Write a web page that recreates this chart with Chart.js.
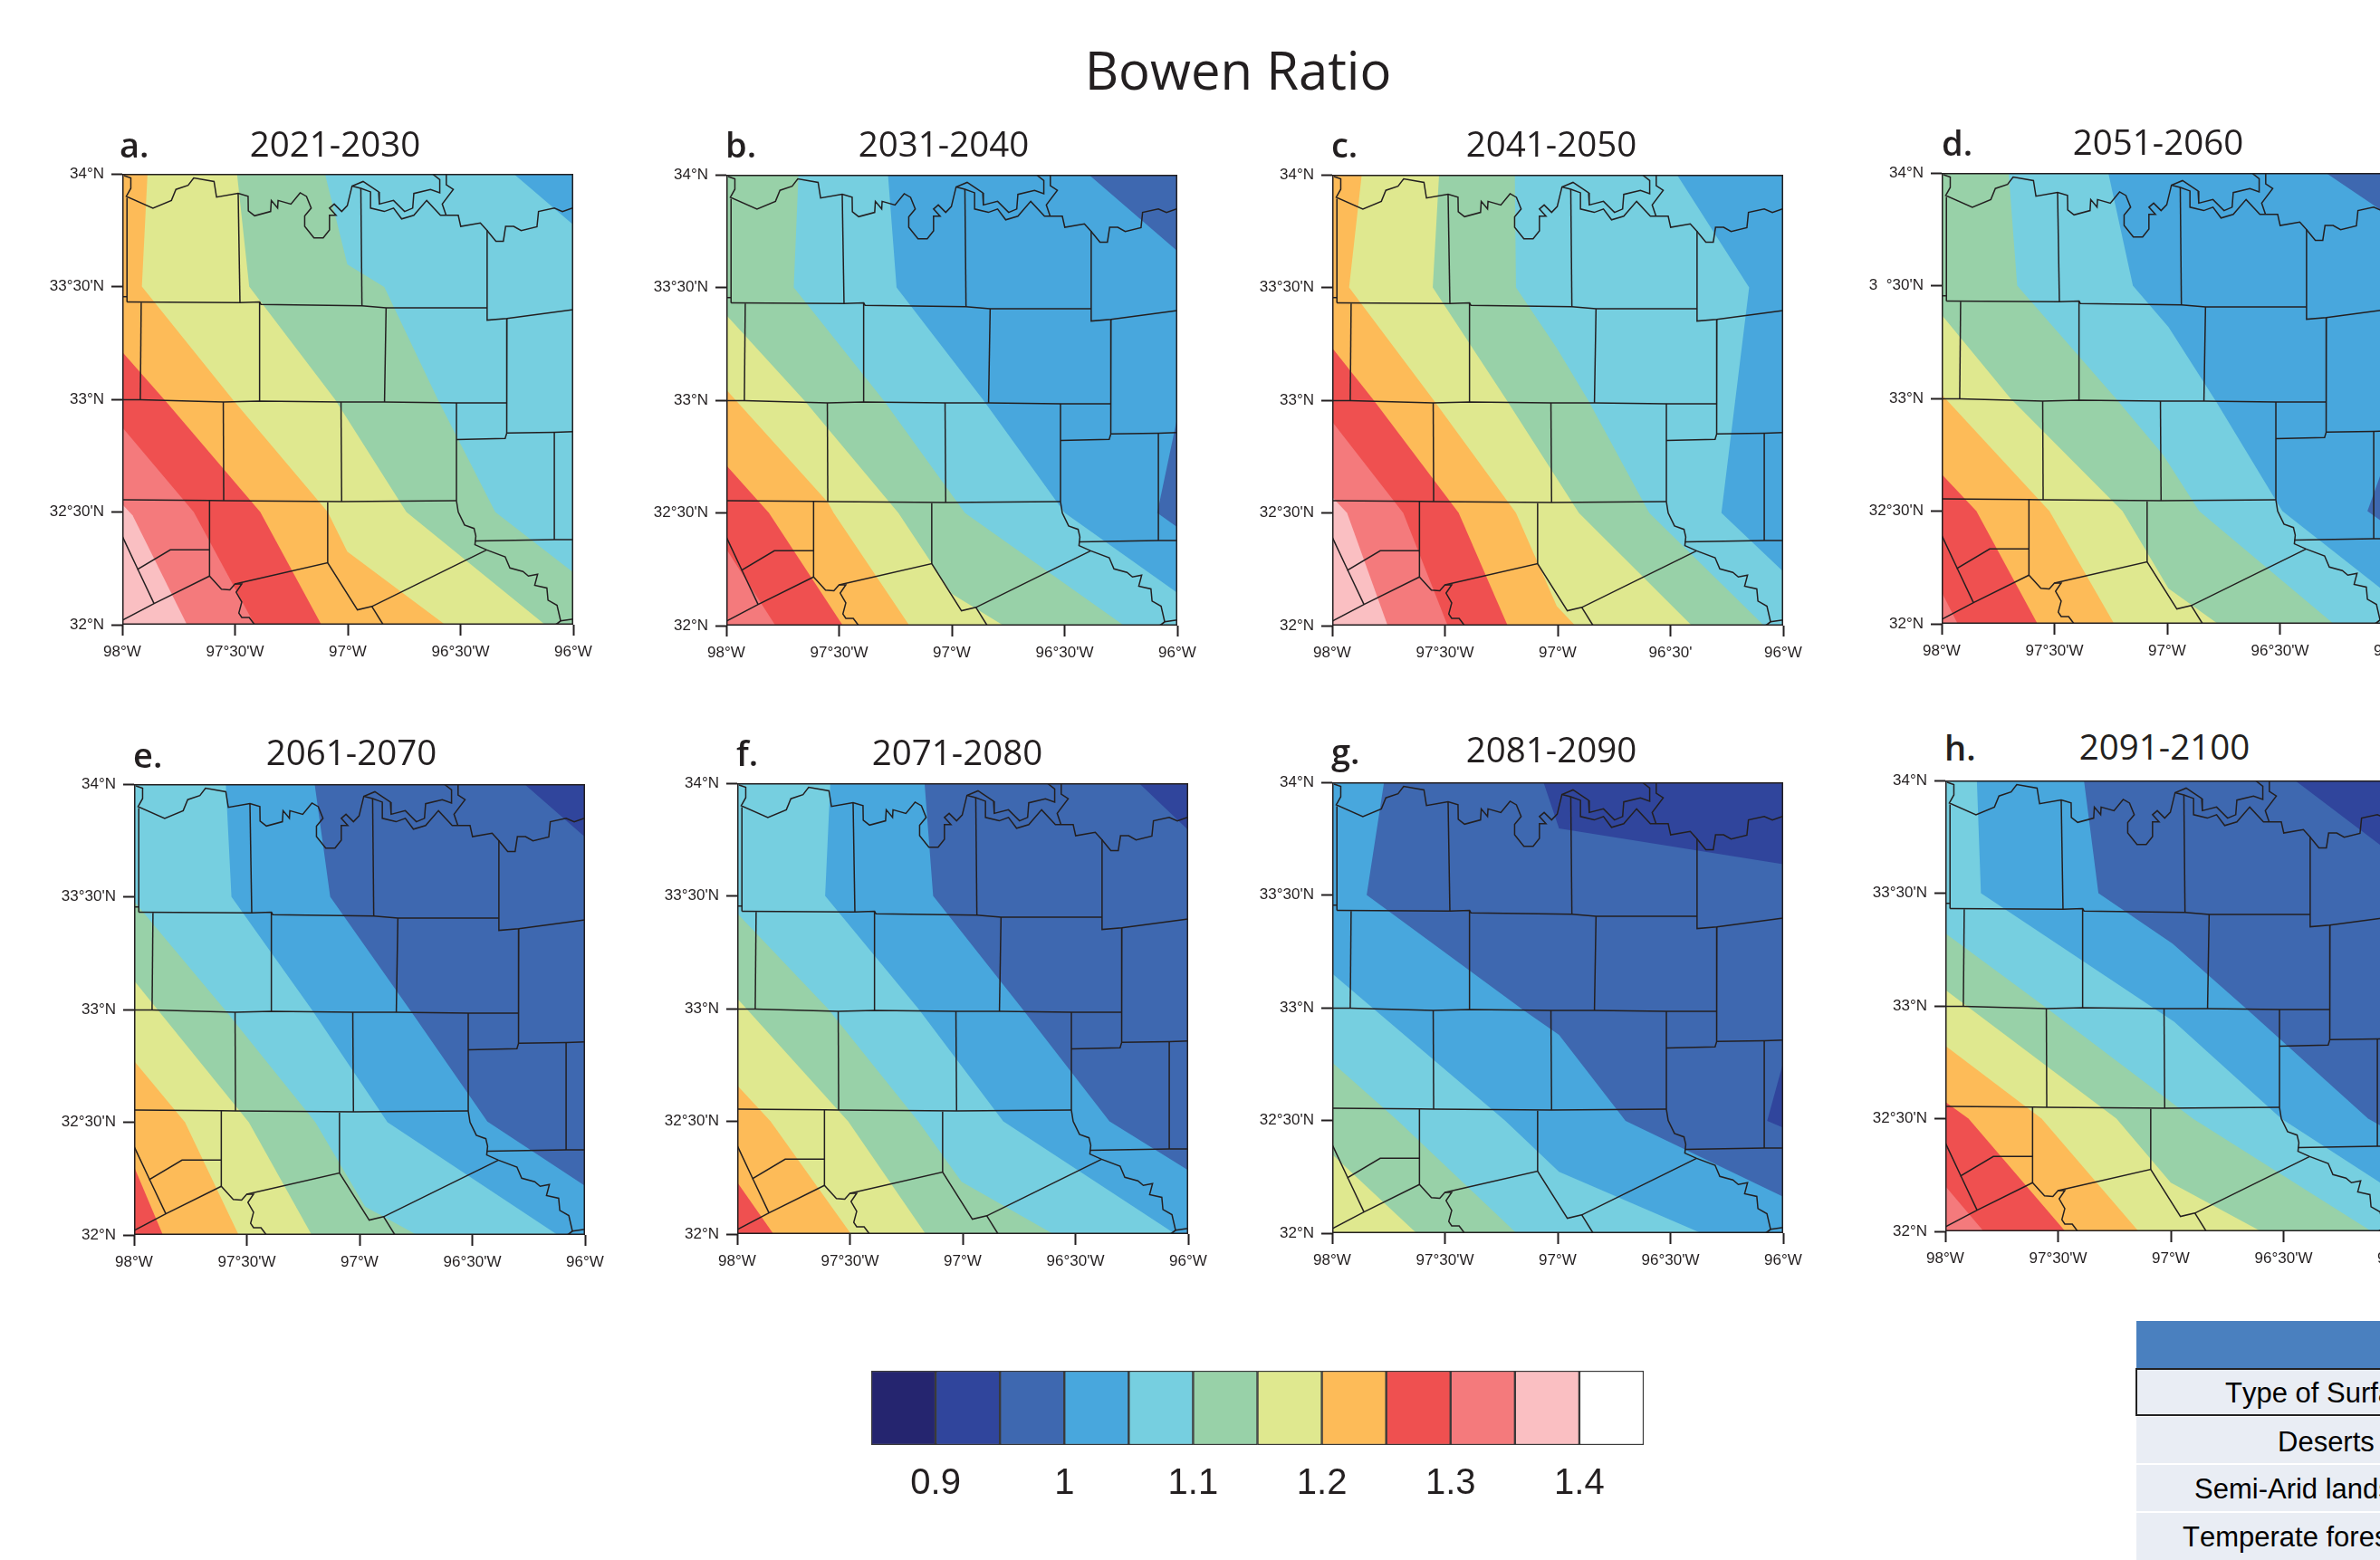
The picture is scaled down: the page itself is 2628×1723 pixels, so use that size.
<!DOCTYPE html>
<html>
<head>
<meta charset="utf-8">
<title>Bowen Ratio</title>
<script src="https://cdn.jsdelivr.net/npm/chart.js@4"></script>
<style>
  html, body { margin: 0; width: 2628px; height: 1723px; overflow: hidden; background: #fff; color: #231f20; }
  canvas { position: absolute; }
  .txt { position: absolute; white-space: nowrap; line-height: 1; }
  .main-title { font: 58px "Open Sans", sans-serif; transform: translateX(-50%); }
  .panel-title { font: 38.5px "Open Sans", sans-serif; transform: translateX(-50%); }
  .panel-letter { font: 600 38px "Open Sans", sans-serif; }
  .row { position: absolute; left: 2359px; right: 0; background: #e9edf4; }
  .row-text { font: 31px "Liberation Sans", sans-serif; color: #000; font-kerning: none; }
</style>
</head>
<body>
<script>
// Legend colours, lowest class first
const LEVEL_COLORS = ['#25256f', '#30459c', '#3e68b0', '#48a7dd', '#76cfe0', '#98d1a8',
  '#dfe88f', '#fdbb58', '#ef5050', '#f47a7c', '#fabfc2', '#ffffff'];
const COLORBAR_EDGES = [0.85, 0.9, 0.95, 1, 1.05, 1.1, 1.15, 1.2, 1.25, 1.3, 1.35, 1.4, 1.45];
const COLORBAR_TICKS = [0.9, 1, 1.1, 1.2, 1.3, 1.4];

const PANEL_LETTERS = ['a.', 'b.', 'c.', 'd.', 'e.', 'f.', 'g.', 'h.'];
const PANEL_YEARS = ['2021-2030', '2031-2040', '2041-2050', '2051-2060',
  '2061-2070', '2071-2080', '2081-2090', '2091-2100'];
const LON_LABELS = ['98°W', "97°30'W", '97°W', "96°30'W", '96°W'];
const LAT_LABELS = ['32°N', "32°30'N", '33°N', "33°30'N", '34°N'];
const TABLE_ROWS = ['Type of Surface', 'Deserts', 'Semi-Arid landscape', 'Temperate forests'];

// Class of the area in the north-east corner of each panel
const BASE_LEVELS = [3, 2, 3, 2, 1, 1, 1, 1];

// Contours as [class, line]: everything south-west of the line has that class or higher.
// Lines are [lon, lat] and start and end on the panel edge.
const bandsA = [
  [4, [[-96.264, 34], [-96, 33.774]]],
  [5, [[-97.101, 34], [-97.002, 33.598], [-96.838, 33.498], [-96.601, 33], [-96.346, 32.5], [-96, 32.232]]],
  [6, [[-97.491, 34], [-97.437, 33.5], [-97.057, 33], [-96.74, 32.5], [-96.125, 32]]],
  [7, [[-97.888, 34], [-97.913, 33.5], [-97.511, 33], [-97.089, 32.5], [-97.002, 32.324], [-96.568, 32]]],
  [8, [[-98, 33.21], [-97.806, 32.99], [-97.388, 32.5], [-97.117, 32]]],
  [9, [[-98, 32.876], [-97.683, 32.5], [-97.413, 32]]],
  [10, [[-98, 32.534], [-97.954, 32.485], [-97.713, 32]]],
];
const bandsB = [
  [3, [[-96.392, 34], [-96, 33.662]]],
  [4, [[-97.283, 34], [-97.245, 33.5], [-96.86, 33], [-96.499, 32.5], [-96, 32.146]]],
  [5, [[-97.68, 34], [-97.701, 33.5], [-97.303, 33], [-96.942, 32.5], [-96.236, 32]]],
  [6, [[-98, 33.378], [-97.655, 33], [-97.237, 32.5], [-96.999, 32.141], [-96.77, 32]]],
  [7, [[-98, 33.046], [-97.549, 32.546], [-97.524, 32.5], [-97.188, 32]]],
  [8, [[-98, 32.711], [-97.811, 32.5], [-97.483, 32]]],
  [9, [[-98, 32.339], [-97.782, 32]]],
];
const bandsC = [
  [4, [[-96.471, 34], [-96.151, 33.5], [-96.274, 32.5], [-96, 32.24]]],
  [5, [[-97.19, 34], [-97.185, 33.5], [-97.004, 33.231], [-96.865, 33], [-96.594, 32.5], [-96.085, 32]]],
  [6, [[-97.526, 34], [-97.554, 33.5], [-97.226, 33], [-96.906, 32.5], [-96.405, 32]]],
  [7, [[-97.869, 34], [-97.925, 33.5], [-97.55, 33], [-97.185, 32.5], [-97.004, 32.086], [-96.922, 32]]],
  [8, [[-98, 33.232], [-97.816, 33], [-97.439, 32.5], [-97.222, 32]]],
  [9, [[-98, 32.905], [-97.685, 32.5], [-97.488, 32]]],
  [10, [[-98, 32.57], [-97.934, 32.5], [-97.754, 32]]],
];
const bandsD = [
  [3, [[-96.296, 34], [-96, 33.8]]],
  [4, [[-97.261, 34], [-97.152, 33.5], [-96.994, 33.316], [-96.783, 32.986], [-96.489, 32.5], [-96, 32.115]]],
  [5, [[-97.703, 34], [-97.665, 33.5], [-97.228, 33], [-97.017, 32.748], [-96.858, 32.5], [-96.262, 32]]],
  [6, [[-98, 33.37], [-97.695, 33], [-97.198, 32.5], [-96.994, 32.157], [-96.775, 32]]],
  [7, [[-98, 33.017], [-97.522, 32.5], [-97.235, 32]]],
  [8, [[-98, 32.664], [-97.846, 32.5], [-97.575, 32]]],
  [9, [[-98, 32.141], [-97.929, 32]]],
];
const bandsE = [
  [2, [[-96.269, 34], [-96, 33.765]]],
  [3, [[-97.199, 34], [-97.13, 33.5], [-96.769, 32.988], [-96.433, 32.503], [-96, 32.218]]],
  [4, [[-97.593, 34], [-97.568, 33.5], [-97.212, 33], [-96.876, 32.5], [-96.121, 32]]],
  [5, [[-98, 33.48], [-97.598, 33], [-97.196, 32.5], [-96.975, 32.126], [-96.745, 32]]],
  [6, [[-98, 33.129], [-97.491, 32.5], [-97.212, 32]]],
  [7, [[-98, 32.772], [-97.774, 32.5], [-97.536, 32]]],
  [8, [[-98, 32.303], [-97.872, 32]]],
];
const bandsF = [
  [2, [[-96.218, 34], [-96, 33.792]]],
  [3, [[-97.169, 34], [-97.131, 33.5], [-96.73, 32.992], [-96.349, 32.5], [-96, 32.283]]],
  [4, [[-97.587, 34], [-97.61, 33.5], [-97.197, 33], [-96.82, 32.5], [-96.057, 32]]],
  [5, [[-98, 33.423], [-97.598, 33], [-97.197, 32.5], [-97.005, 32.232], [-96.598, 32]]],
  [6, [[-98, 33.045], [-97.508, 32.5], [-97.164, 32]]],
  [7, [[-98, 32.66], [-97.852, 32.5], [-97.495, 32]]],
  [8, [[-98, 32.23], [-97.839, 32]]],
];
const bandsG = [
  [2, [[-97.063, 34], [-96.994, 33.795], [-96, 33.637]]],
  [3, [[-97.77, 34], [-97.847, 33.5], [-97.15, 32.988], [-96.994, 32.88], [-96.699, 32.498], [-96, 32.162]]],
  [4, [[-98, 33.152], [-97.232, 32.498], [-96.994, 32.272], [-96.363, 32]]],
  [5, [[-98, 32.757], [-97.708, 32.498], [-97.183, 32]]],
  [6, [[-98, 32.349], [-97.626, 32]]],
];
const bandsH = [
  [2, [[-96.449, 34], [-96, 33.66]]],
  [3, [[-97.385, 34], [-97.321, 33.5], [-96.992, 33.276], [-96.661, 32.984], [-96.125, 32.5], [-96, 32.43]]],
  [4, [[-97.86, 34], [-97.842, 33.5], [-96.985, 32.93], [-96.51, 32.5], [-96, 32.17]]],
  [5, [[-98, 33.322], [-97.55, 32.99], [-96.902, 32.5], [-96.11, 32]]],
  [6, [[-98, 33.071], [-97.241, 32.5], [-97, 32.216], [-96.6, 32]]],
  [7, [[-98, 32.823], [-97.573, 32.5], [-97.143, 32]]],
  [8, [[-98, 32.574], [-97.897, 32.5], [-97.468, 32]]],
  [9, [[-98, 32.201], [-97.83, 32]]],
];
const PANEL_BANDS = [bandsA, bandsB, bandsC, bandsD, bandsE, bandsF, bandsG, bandsH];

// Small low-value patches on the east edge, drawn over the bands
const PANEL_PATCHES = [
  [],
  [[2, [[-96, 32.924], [-96.089, 32.5], [-96, 32.437]]]],
  [],
  [[2, [[-96, 32.81], [-96.112, 32.5], [-96, 32.42]]]],
  [],
  [],
  [[1, [[-96, 32.757], [-96.071, 32.498], [-96, 32.468]]]],
  [],
];

// County lines and rivers, same on every panel
const redRiver = [[-97.992, 33.992], [-97.962, 33.982], [-97.962, 33.936], [-97.982, 33.9], [-97.864, 33.848],
  [-97.782, 33.882], [-97.762, 33.931], [-97.708, 33.949], [-97.683, 33.982], [-97.593, 33.966], [-97.582, 33.897],
  [-97.486, 33.914], [-97.442, 33.9], [-97.441, 33.836], [-97.413, 33.814], [-97.342, 33.833], [-97.339, 33.882],
  [-97.311, 33.848], [-97.309, 33.882], [-97.252, 33.866], [-97.211, 33.916], [-97.183, 33.9], [-97.162, 33.848],
  [-97.191, 33.813], [-97.191, 33.767], [-97.15, 33.716], [-97.109, 33.716], [-97.081, 33.751], [-97.081, 33.816],
  [-97.052, 33.816], [-97.081, 33.848], [-97.06, 33.866], [-97.027, 33.833], [-97.002, 33.859], [-96.981, 33.946],
  [-96.932, 33.966], [-96.863, 33.92], [-96.86, 33.866], [-96.797, 33.882], [-96.748, 33.833], [-96.712, 33.848],
  [-96.707, 33.913], [-96.633, 33.931], [-96.592, 33.916], [-96.592, 33.974], [-96.625, 34]];
const lakeBranch = [[-96.981, 33.946], [-96.942, 33.936], [-96.899, 33.92], [-96.899, 33.848], [-96.838, 33.833],
  [-96.797, 33.848], [-96.761, 33.8], [-96.707, 33.816], [-96.65, 33.882], [-96.589, 33.816], [-96.51, 33.816],
  [-96.499, 33.767], [-96.412, 33.782], [-96.384, 33.751], [-96.343, 33.701], [-96.31, 33.701], [-96.3, 33.767],
  [-96.264, 33.767], [-96.231, 33.748], [-96.161, 33.765], [-96.154, 33.833], [-96.084, 33.848], [-96.048, 33.833],
  [-96, 33.85]];
const eastBranch = [[-96.563, 34], [-96.563, 33.951], [-96.532, 33.931], [-96.581, 33.866], [-96.564, 33.816]];
const trinity = [[-96.518, 32.55], [-96.51, 32.5], [-96.482, 32.442], [-96.44, 32.427], [-96.432, 32.393],
  [-96.436, 32.355], [-96.384, 32.332], [-96.302, 32.301], [-96.281, 32.252], [-96.223, 32.236], [-96.199, 32.216],
  [-96.158, 32.224], [-96.171, 32.175], [-96.117, 32.163], [-96.112, 32.109], [-96.072, 32.086], [-96.056, 32.017],
  [-96.075, 32.002]];
const southRiver = [[-97.613, 32.551], [-97.613, 32.216], [-97.56, 32.158], [-97.523, 32.155], [-97.5, 32.181],
  [-97.47, 32.181], [-97.495, 32.144], [-97.47, 32.101], [-97.483, 32.052], [-97.47, 32.032], [-97.437, 32.032],
  [-97.413, 32]];
const countyLines = [
  [[-97.979, 33.894], [-97.979, 33.432]],
  [[-98, 33.455], [-97.979, 33.455]],
  [[-97.979, 33.432], [-97.478, 33.429], [-97.391, 33.432], [-97.385, 33.421], [-96.937, 33.415], [-96.83, 33.406], [-96.382, 33.406]],
  [[-97.486, 33.914], [-97.478, 33.429]],
  [[-96.942, 33.936], [-96.937, 33.415]],
  [[-96.382, 33.751], [-96.382, 33.351], [-96.294, 33.358], [-96, 33.398]],
  [[-96.83, 33.406], [-96.837, 32.988]],
  [[-97.391, 33.432], [-97.391, 32.992]],
  [[-97.916, 33.429], [-97.92, 32.998]],
  [[-98, 32.998], [-97.92, 32.998], [-97.552, 32.988], [-97.391, 32.992], [-97.03, 32.988], [-96.837, 32.988], [-96.518, 32.984], [-96.295, 32.984]],
  [[-96.294, 33.358], [-96.295, 32.984], [-96.295, 32.85], [-96.302, 32.826], [-96.518, 32.821]],
  [[-96.295, 32.85], [-96.084, 32.853], [-96, 32.856]],
  [[-96.518, 32.984], [-96.518, 32.55]],
  [[-97.552, 32.988], [-97.55, 32.55]],
  [[-97.03, 32.988], [-97.027, 32.546]],
  [[-98, 32.554], [-97.613, 32.551], [-97.55, 32.55], [-97.027, 32.546], [-96.518, 32.55]],
  [[-96.436, 32.371], [-96.084, 32.378], [-96, 32.378]],
  [[-96.084, 32.853], [-96.084, 32.378]],
  [[-96.384, 32.332], [-96.893, 32.081], [-96.957, 32.066], [-97.089, 32.275], [-97.5, 32.181]],
  [[-97.089, 32.543], [-97.089, 32.275]],
  [[-96.893, 32.081], [-96.843, 32]],
  [[-97.613, 32.332], [-97.787, 32.332], [-97.931, 32.246], [-98, 32.393]],
  [[-97.931, 32.246], [-97.859, 32.094]],
  [[-97.613, 32.216], [-97.859, 32.094], [-98, 32.02]],
  [[-96.075, 32.002], [-96.056, 32.017], [-96, 32.025]],
  [[-96.075, 32.002], [-96.09, 32]],
];
const MAP_LINES = [redRiver, lakeBranch, eastBranch, trinity, southRiver, ...countyLines];

// Left and top of each plot area on the page
const PANEL_BOXES = [[135, 192], [802, 193], [1471, 193], [2144, 191], [148, 866], [814, 865], [1471, 864], [2148, 862]];
const LETTER_POS = [[132, 133], [801, 133], [1470, 133], [2144, 131], [147, 807], [813, 805], [1470, 803], [2147, 799]];
const YEAR_CENTER = [[370, 132], [1042, 132], [1713, 132], [2383, 130], [388, 804], [1057, 804], [1713, 801], [2390, 798]];

const PLOT_SIZE = 498;
const Y_AXIS_W = 90;
const X_AXIS_H = 50;
const PAD_TOP = 10;
const PAD_RIGHT = 30;
const INK = '#231f20';

const toPoints = (pairs) => pairs.map(([x, y]) => ({ x, y }));

function borderPos([lon, lat]) {
  if (lat === 32) return (-96 - lon) / 2;
  if (lon === -98) return 1 + (lat - 32) / 2;
  if (lat === 34) return 2 + (lon + 98) / 2;
  return 3 + (34 - lat) / 2;
}

// Walk clockwise round the frame from the end of the line back to its start
function closeBand(line) {
  const corners = [[-96, 32], [-98, 32], [-98, 34], [-96, 34]];
  const from = borderPos(line[line.length - 1]);
  let to = borderPos(line[0]);
  if (to < from) to += 4;
  const out = [...line];
  for (let k = Math.ceil(from); k < to; k++) out.push(corners[k % 4]);
  return out;
}

function areaDataset(level, pairs) {
  return {
    data: toPoints(pairs),
    showLine: true,
    fill: 'shape',
    backgroundColor: LEVEL_COLORS[level],
    borderWidth: 0,
    pointRadius: 0,
  };
}

function lineDataset(pairs, width) {
  return {
    data: toPoints(pairs),
    showLine: true,
    fill: false,
    borderColor: INK,
    borderWidth: width,
    pointRadius: 0,
  };
}

function panelDatasets(i) {
  const frame = [[-98, 32], [-96, 32], [-96, 34], [-98, 34], [-98, 32]];
  const list = [areaDataset(BASE_LEVELS[i], frame)];
  PANEL_BANDS[i].forEach(([level, line]) => list.push(areaDataset(level, closeBand(line))));
  PANEL_PATCHES[i].forEach(([level, shape]) => list.push(areaDataset(level, shape)));
  MAP_LINES.forEach((line) => list.push(lineDataset(line, 1.5)));
  list.push(lineDataset(frame, 3));
  // first dataset is painted last in Chart.js
  return list.reverse();
}

function addCanvas(left, top, width, height) {
  const canvas = document.createElement('canvas');
  canvas.width = width;
  canvas.height = height;
  canvas.style.left = left + 'px';
  canvas.style.top = top + 'px';
  document.body.appendChild(canvas);
  return canvas;
}

function addText(cls, text, left, top) {
  const el = document.createElement('div');
  el.className = 'txt ' + cls;
  el.textContent = text;
  el.style.left = left + 'px';
  el.style.top = top + 'px';
  document.body.appendChild(el);
}

function axisOptions(min, max, labels, axisKey) {
  return {
    type: 'linear',
    min,
    max,
    border: { display: false },
    grid: { drawOnChartArea: false, drawTicks: true, tickLength: 12, tickWidth: 2, tickColor: INK },
    ticks: {
      stepSize: 0.5,
      autoSkip: false,
      maxRotation: 0,
      padding: 8,
      color: INK,
      font: { family: 'Liberation Sans', size: 17 },
      callback: (value, index) => labels[index],
    },
    // fixed axis sizes, and no extra room for the end labels, so the plot stays 498 square
    afterFit: (scale) => {
      if (axisKey === 'x') {
        scale.height = X_AXIS_H;
        scale.paddingLeft = 0;
        scale.paddingRight = 0;
      } else {
        scale.width = Y_AXIS_W;
        scale.paddingTop = 0;
        scale.paddingBottom = 0;
      }
    },
  };
}

function drawPanel(i) {
  const [left, top] = PANEL_BOXES[i];
  const canvas = addCanvas(left - Y_AXIS_W, top - PAD_TOP, Y_AXIS_W + PLOT_SIZE + PAD_RIGHT, PAD_TOP + PLOT_SIZE + X_AXIS_H);
  // two labels in the source figure are misprinted, kept as they are
  const lonLabels = i === 2 ? ['98°W', "97°30'W", '97°W', "96°30'", '96°W'] : LON_LABELS;
  const latLabels = i === 3 ? ['32°N', "32°30'N", '33°N', "3  °30'N", '34°N'] : LAT_LABELS;
  new Chart(canvas, {
    type: 'scatter',
    data: { datasets: panelDatasets(i) },
    options: {
      responsive: false,
      animation: false,
      devicePixelRatio: 1,
      layout: { padding: { top: PAD_TOP, right: PAD_RIGHT, left: 0, bottom: 0 } },
      plugins: { legend: { display: false }, tooltip: { enabled: false } },
      scales: {
        x: axisOptions(-98, -96, lonLabels, 'x'),
        y: axisOptions(32, 34, latLabels, 'y'),
      },
    },
  });
  addText('panel-letter', PANEL_LETTERS[i], LETTER_POS[i][0], LETTER_POS[i][1]);
  addText('panel-title', PANEL_YEARS[i], YEAR_CENTER[i][0], YEAR_CENTER[i][1]);
}

function drawColorbar() {
  const pad = 40;
  const canvas = addCanvas(962 - pad, 1514 - 4, 853 + pad * 2, 160);
  new Chart(canvas, {
    type: 'bar',
    data: {
      labels: [''],
      datasets: LEVEL_COLORS.map((color, k) => ({
        data: [[COLORBAR_EDGES[k], COLORBAR_EDGES[k + 1]]],
        backgroundColor: color,
        borderColor: '#3a3a3a',
        borderWidth: 1.5,
        borderSkipped: false,
        barPercentage: 1,
        categoryPercentage: 1,
        grouped: false,
      })),
    },
    options: {
      indexAxis: 'y',
      responsive: false,
      animation: false,
      devicePixelRatio: 1,
      layout: { padding: { top: 4, left: pad, right: pad, bottom: 0 } },
      plugins: { legend: { display: false }, tooltip: { enabled: false } },
      scales: {
        y: { display: false },
        x: {
          type: 'linear',
          min: COLORBAR_EDGES[0],
          max: COLORBAR_EDGES[COLORBAR_EDGES.length - 1],
          border: { display: false },
          grid: { display: false, drawTicks: false },
          afterBuildTicks: (scale) => {
            scale.ticks = COLORBAR_TICKS.map((value) => ({ value }));
          },
          afterFit: (scale) => { scale.height = 74; },
          ticks: {
            autoSkip: false,
            maxRotation: 0,
            padding: 19,
            color: INK,
            font: { family: 'Liberation Sans', size: 40 },
            callback: (value) => String(value),
          },
        },
      },
    },
  });
}

function drawTable() {
  const header = document.createElement('div');
  header.className = 'row';
  header.style.cssText = 'top:1459px;height:52px;background:#4a80bf';
  document.body.appendChild(header);
  const tops = [1511, 1565, 1618, 1671];
  const heights = [53, 51, 51, 52];
  const textLeft = [2457, 2515, 2423, 2410];
  const textTop = [1521, 1575, 1627, 1680];
  TABLE_ROWS.forEach((label, k) => {
    const row = document.createElement('div');
    row.className = 'row';
    row.style.top = tops[k] + 'px';
    row.style.height = heights[k] + 'px';
    if (k === 0) {
      row.style.left = '2358px';
      row.style.border = '2px solid #222';
      row.style.borderRight = 'none';
      row.style.boxSizing = 'border-box';
    }
    document.body.appendChild(row);
    addText('row-text', label, textLeft[k], textTop[k]);
  });
}

function main() {
  addText('main-title', 'Bowen Ratio', 1367, 37);
  PANEL_YEARS.forEach((_, i) => drawPanel(i));
  drawColorbar();
  drawTable();
}

main();
</script>
</body>
</html>
